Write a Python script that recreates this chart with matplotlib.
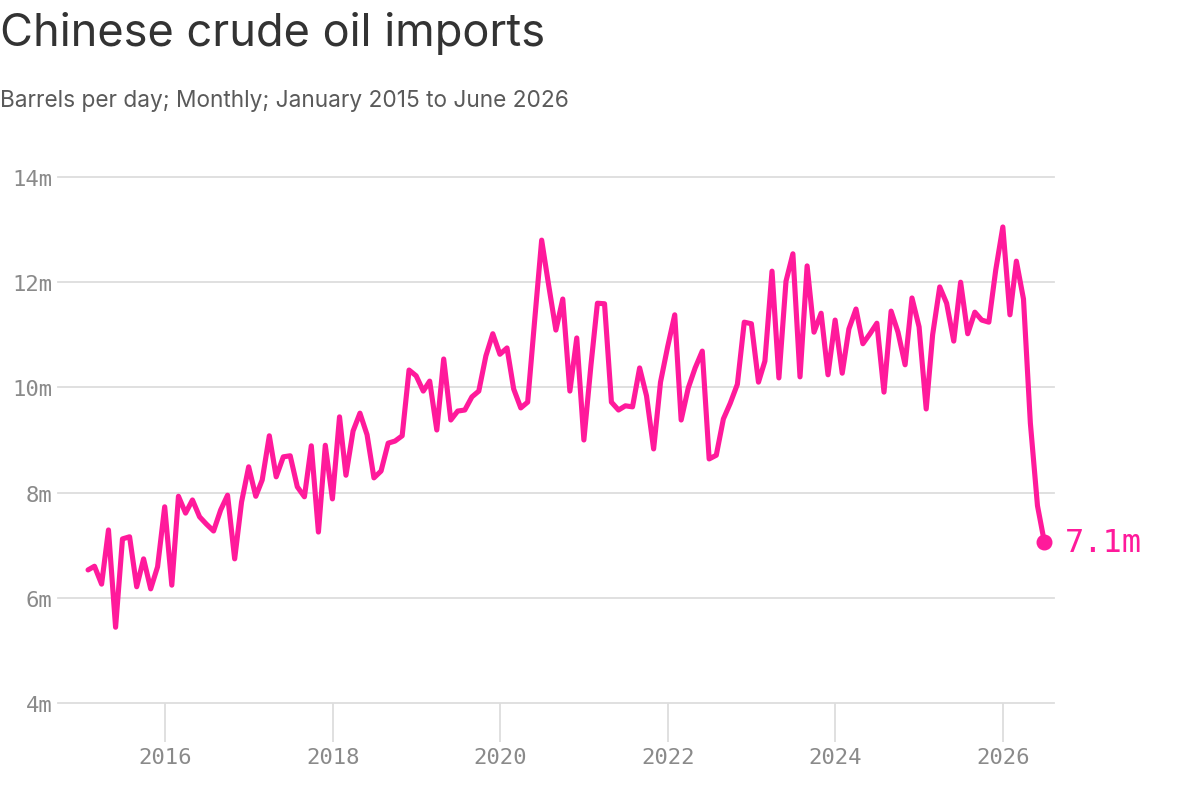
import numpy as np
import pandas as pd
import matplotlib
matplotlib.use("Agg")
import matplotlib.pyplot as plt
import matplotlib.dates as mdates

# Monthly crude imports, million barrels per day
v2015 = [6.53, 6.60, 6.26, 7.29, 5.44, 7.12, 7.16, 6.21, 6.74, 6.17, 6.59, 7.73]
v2016 = [6.24, 7.93, 7.61, 7.86, 7.54, 7.40, 7.27, 7.67, 7.95, 6.74, 7.82, 8.49]
v2017 = [7.93, 8.24, 9.08, 8.30, 8.68, 8.70, 8.11, 7.92, 8.89, 7.25, 8.90, 7.88]
v2018 = [9.44, 8.33, 9.17, 9.51, 9.10, 8.28, 8.41, 8.94, 8.98, 9.08, 10.33, 10.22]
v2019 = [9.93, 10.12, 9.19, 10.54, 9.38, 9.55, 9.57, 9.82, 9.93, 10.60, 11.02, 10.63]
v2020 = [10.75, 9.97, 9.61, 9.72, 11.30, 12.80, 11.93, 11.09, 11.68, 9.93, 10.94, 9.00]
v2021 = [10.43, 11.60, 11.59, 9.72, 9.57, 9.65, 9.63, 10.37, 9.84, 8.83, 10.10, 10.77]
v2022 = [11.38, 9.38, 9.99, 10.37, 10.69, 8.64, 8.71, 9.40, 9.70, 10.06, 11.24, 11.21]
v2023 = [10.10, 10.50, 12.21, 10.18, 12.02, 12.54, 10.20, 12.31, 11.05, 11.41, 10.24, 11.28]
v2024 = [10.27, 11.11, 11.49, 10.83, 11.02, 11.22, 9.91, 11.45, 11.05, 10.43, 11.70, 11.15]
v2025 = [9.59, 11.00, 11.91, 11.60, 10.88, 12.00, 11.02, 11.43, 11.28, 11.24, 12.23, 13.05]
v2026 = [11.38, 12.40, 11.68, 9.32, 7.75, 7.06]

values = v2015 + v2016 + v2017 + v2018 + v2019 + v2020 + v2021 + v2022 + v2023 + v2024 + v2025 + v2026
dates = pd.date_range("2015-01-31", periods=len(values), freq="ME")

y_ticks = [4, 6, 8, 10, 12, 14]
y_labels = ["4m", "6m", "8m", "10m", "12m", "14m"]
x_years = [2016, 2018, 2020, 2022, 2024, 2026]
end_label = "7.1m"

pink = "#FF1A9B"
grid_col = "#DDDDDD"
tick_col = "#8A8A8A"
mono = "DejaVu Sans Mono"

fig = plt.figure(figsize=(12, 8.12), dpi=100)
ax = fig.add_axes([58 / 1200, 1 - 704 / 812, 996 / 1200, 526 / 812])

ax.plot(dates, values, color=pink, lw=3.7, solid_joinstyle="round",
        solid_capstyle="round", zorder=3, clip_on=False)
ax.plot(dates[-1], values[-1], "o", color=pink, ms=10.5, zorder=4, clip_on=False)
ax.annotate(end_label, (dates[-1], values[-1]), xytext=(15, 0),
            textcoords="offset points", va="center", ha="left",
            color=pink, fontsize=23, family=mono)

ax.set_ylim(4, 14)
ax.set_xlim(pd.Timestamp("2014-09-22"), pd.Timestamp("2026-08-11"))

ax.set_yticks(y_ticks)
ax.set_yticklabels(y_labels)
ax.set_xticks([pd.Timestamp(f"{y}-01-01") for y in x_years])
ax.xaxis.set_major_formatter(mdates.DateFormatter("%Y"))

for y in y_ticks:
    ax.axhline(y, color=grid_col, lw=1.3, zorder=1, clip_on=False)

for s in ax.spines.values():
    s.set_visible(False)

ax.tick_params(axis="y", length=0, pad=4, labelsize=16, labelcolor=tick_col)
ax.tick_params(axis="x", direction="out", length=28, width=1.3, color=grid_col,
               pad=4, labelsize=16, labelcolor=tick_col)
for lab in ax.get_xticklabels() + ax.get_yticklabels():
    lab.set_family(mono)

fig.text(0 / 1200, 1 - 12 / 812, "Chinese crude oil imports", ha="left", va="top",
         fontsize=32.5, color="#333333", family="Inter")
fig.text(0 / 1200, 1 - 90 / 812, "Barrels per day; Monthly; January 2015 to June 2026",
         ha="left", va="top", fontsize=16.3, color="#5A5A5A", family="Inter")

fig.savefig("out.png", dpi=100, facecolor="white")
